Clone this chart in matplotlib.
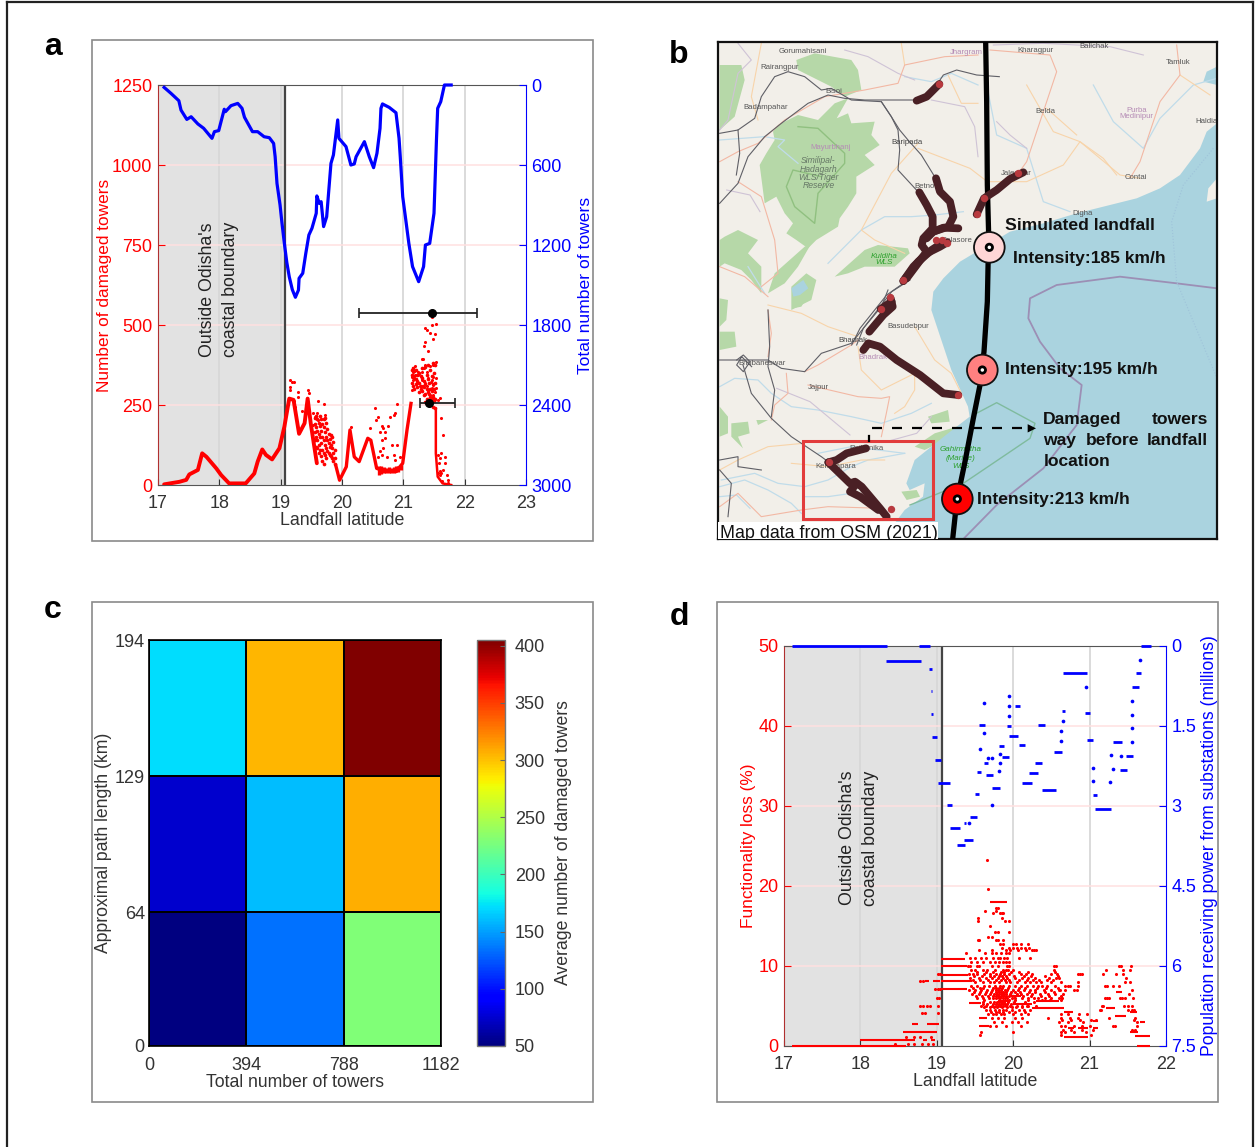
import matplotlib
matplotlib.use("Agg")
import matplotlib.pyplot as plt
from matplotlib.patches import Circle, Polygon, Rectangle, FancyArrowPatch

plt.rcParams['font.family'] = ['Liberation Sans', 'DejaVu Sans']
W, H = 1255, 1147
RED, BLUE, DARK = '#ff0000', '#0000ff', '#333333'
GRAY_BG, GRID_V, GRID_H = '#e2e2e2', '#d8d8d8', '#ffe0e0'

# ---------- panel a ----------
a_towers_lat = [17.10,17.21,17.34,17.375,17.47,17.54,17.65,17.745,17.88,17.92,17.99,18.08,18.10,18.19,18.30,18.37,18.41,18.54,18.625,18.73,18.815,18.885,18.91,18.94,18.99,19.02,19.06,19.10,19.14,19.19,19.24,19.29,19.30,19.36,19.41,19.46,19.51,19.58,19.59,19.63,19.66,19.70,19.75,19.82,19.86,19.93,19.95,20.065,20.145,20.20,20.23,20.365,20.445,20.515,20.57,20.62,20.635,20.66,20.77,20.88,20.93,20.95,20.99,21.04,21.09,21.15,21.25,21.33,21.36,21.43,21.50,21.54,21.56,21.61,21.67,21.78]
a_towers_val = [18,62,118,188,258,238,292,325,400,350,342,182,200,155,138,175,242,350,350,388,395,438,538,738,900,1030,1188,1330,1438,1535,1592,1538,1450,1412,1262,1125,1075,962,832,888,875,1062,988,588,525,262,400,462,600,592,538,425,538,620,512,325,175,142,168,208,400,538,838,1012,1188,1362,1475,1362,1200,1188,962,412,175,125,0,0]
a_band_lat = [17.10,17.35,17.46,17.51,17.65,17.72,17.79,17.95,18.03,18.16,18.43,18.57,18.625,18.70,18.76,18.86,18.98,19.06,19.14,19.21,19.30,19.39,19.44,19.49,19.54,19.59]
a_band_val = [2,10,16,33,47,99,88,52,31,5,5,36,73,111,94,80,115,182,270,266,160,193,270,193,130,68]
a_band2_lat = [19.90,19.96,20.07,20.13,20.20,20.28,20.42,20.47,20.565,20.64,20.88,20.99,21.06,21.125]
a_band2_val = [60,15,57,172,88,73,146,140,52,47,42,68,172,255]
a_band3_lat = [21.53,21.53,21.56,21.64,21.78]
a_band3_val = [234,99,26,5,0]
a_dense_lat = [19.56,19.58,19.60,19.62,19.64,19.66,19.68,19.70,19.72,19.74,19.76,19.78,19.80,19.82,19.84,19.86,19.88,
               21.14,21.16,21.18,21.20,21.22,21.25,21.28,21.30,21.33,21.36,21.38,21.40,21.42,21.44,21.46,21.48,21.50,21.52]
a_dense_vals = [[210,190,165,140],[215,180,150,120],[205,170,140,115],[195,160,125,100],[215,185,150,110],[205,170,130,90],[190,150,110,75],
                [205,180,140,100,65],[210,165,125,95],[195,150,115,85],[175,140,105],[160,130,100],[145,120,95],[155,125,90],[150,115,85],[135,100,75],[110,85,65],
                [360,345,320],[365,340,310],[355,335,300],[360,330,315],[345,325,305],[350,320,290],[340,310,300],[365,335,295],[325,305,280],[370,315,285,260],[345,300,270],[375,330,290,255],[320,285,262],[360,300,275,250],[340,295,265],[380,315,275,245],[350,300,262],[375,320,270,240]]
a_low_lat = [20.60,20.64,20.68,20.72,20.76,20.80,20.84,20.88,20.92,20.96]
a_low_hi = [60,58,55,52,55,52,55,58,60,62]
a_low_lo = [32,34,38,36,38,36,38,40,42,48]
a_dots_lat = [21.47,21.35,21.38,21.46,21.54,21.43,21.52,21.49,21.35,21.34,21.41,21.30,21.32,21.54,21.49,21.43,21.35,21.34,21.38,21.16,21.19,21.24,21.16,21.19,21.24,21.30,21.135,21.16,21.22,21.27,21.325,21.35,21.41,21.49,21.54,21.135,21.30,21.31,21.38,21.41,21.45,21.46,21.49,21.43,21.46,21.515,21.54,21.60,21.46,21.49,21.57,
 19.15,19.18,19.21,19.15,19.15,19.28,19.28,19.21,19.23,19.34,19.45,19.46,19.61,19.70,19.53,19.59,19.72,19.52,19.56,19.61,
 20.14,20.53,20.59,20.56,20.89,20.84,20.86,20.78,20.65,20.67,20.62,20.70,20.46,20.75,20.65,20.81,20.89,20.67,20.62,20.65,20.84,20.73,20.59,20.86,20.945,20.70,
 21.62,21.65,21.62,21.68,21.68,21.60,21.62,21.71,21.73,21.57,21.65,21.73,21.56,21.58,21.59,21.6,21.63]
a_dots_val = [525,490,484,500,503,474,472,455,448,434,420,395,395,385,375,372,375,365,354,365,372,354,354,344,344,354,339,328,318,308,308,318,333,339,333,297,328,333,308,297,323,303,282,282,268,292,303,271,328,313,266,
 328,323,323,305,297,292,276,261,245,230,297,287,263,254,188,224,219,224,214,204,
 181,240,214,204,254,219,224,214,183,178,167,167,178,183,141,126,126,115,105,94,94,89,89,79,89,146,
 209,157,100,89,68,84,37,32,16,37,48,6,95,70,45,30,14]
a_err_lat, a_err_val = [21.47, 21.42], [539, 255]
a_err_lo, a_err_hi = [1.20, 0.15], [0.73, 0.43]

# ---------- panel c ----------
c_x_ticks, c_y_ticks = [0, 394, 788, 1182], [0, 64, 129, 194]
c_avg_damage = [[50, 134, 230], [74, 160, 307], [172, 305, 405]]
cbar_ticks = [50, 100, 150, 200, 250, 300, 350, 400]

# ---------- panel d ----------
d_red_seg = [(17.1,18.6,0),(18.0,18.71,0.7),(18.82,18.87,0.7),(18.92,18.97,0.7),(18.56,19.0,1.75),(18.67,18.76,2.8),(18.87,19.03,2.8),(19.05,19.37,10.9),(19.05,19.39,9.95),(19.05,19.41,8.9),(19.05,19.39,7.15),(18.85,18.9,8.15),(18.95,19.04,8.15),(19.06,19.46,8.15),(19.69,19.915,18.05),(20.25,20.66,4.75),(20.66,20.98,1.15),(20.66,20.78,4.2),(20.72,20.8,2.3),(20.85,20.98,2.3),(21.05,21.11,3.1),(21.05,21.11,2.3),(21.33,21.48,3.7),(21.22,21.33,4.8),(21.35,21.42,6.7),(21.53,21.62,4.3),(21.66,21.72,3.0),(21.53,21.64,1.8),(21.6,21.79,1.2),(21.62,21.79,0),(19.55,19.68,2.5),(19.55,19.66,3.5),(19.8,19.95,5.6),(20.0,20.25,5.2),(20.3,20.6,5.6),(19.42,19.58,5.4),(19.95,20.1,6.3)]
d_red_levels = {
 23.25:[19.66], 19.6:[19.67], 17.2:[19.78,19.8], 16.9:[19.775,19.63], 16.6:[19.83,19.85,19.87,19.73],
 16.0:[19.535,19.85], 15.6:[19.535,19.89,19.94], 15.0:[19.69], 14.2:[19.76,19.8,19.94], 13.6:[19.675,19.72],
 13.2:[19.545,19.55,19.775,19.8,19.86], 12.7:[19.83,19.87,20.04,20.1,20.19,20.0], 12.3:[19.85,19.95,20.0,20.05,20.1,20.15,20.21],
 12.0:[19.55,19.72,19.9,19.96,20.06,20.17,20.24,20.27,20.3], 11.6:[19.63,19.72,19.78,19.84,19.9,19.95,19.38],
 11.0:[19.43,19.5,19.58,19.65,19.74,19.8,19.83,19.88,19.92,20.07,20.22], 10.5:[19.45,19.52,19.6,19.7,19.76,19.82,19.86,19.9,19.94],
 10.0:[19.41,19.44,19.52,19.55,19.72,19.8,19.92,19.95,20.53,20.56,21.39,21.41,21.54], 9.5:[19.45,19.5,19.6,19.66,19.76,19.86,19.9,19.93,20.0,20.53,21.21,21.44,21.53],
 9.0:[19.42,19.47,19.52,19.62,19.7,19.78,19.83,19.88,19.95,20.1,20.17,20.25,20.5,20.57,20.85,20.88,20.9,21.18,21.35,21.44],
 8.5:[19.44,19.55,19.65,19.72,19.8,19.86,19.92,20.03,20.12,20.2,20.28,20.47,20.56,20.6,21.48],
 8.0:[19.5,19.6,19.7,19.75,19.82,19.9,19.96,20.05,20.15,20.22,20.3,20.36,20.5,20.62,20.85,21.46,21.53],
 7.5:[19.45,19.53,19.62,19.68,19.76,19.83,19.87,19.94,20.02,20.1,20.18,20.26,20.32,20.38,20.44,20.55,20.68,20.72,20.74,20.85,21.2,21.23,21.31,21.38],
 7.0:[19.42,19.5,19.58,19.66,19.72,19.78,19.8,19.84,19.89,19.92,20.0,20.06,20.14,20.22,20.28,20.4,20.5,20.6,20.61,20.68,20.79,20.83,21.55],
 6.5:[19.46,19.55,19.63,19.7,19.75,19.79,19.82,19.85,19.88,19.91,19.96,20.05,20.1,20.18,20.24,20.35,20.45,20.55,20.65,21.51],
 6.0:[19.52,19.6,19.68,19.74,19.78,19.81,19.83,19.86,19.89,19.92,19.98,20.02,20.12,20.19,20.27,20.33,20.42,20.5,20.6,20.64,21.2,21.23,21.25,21.4,21.43,21.46,21.57],
 5.0:[19.58,19.64,19.72,19.78,19.8,19.83,19.87,19.9,19.96,20.05,20.12,20.18,20.2,20.3,21.16,21.18,21.45,21.5,21.55],
 4.5:[19.64,19.7,19.76,19.82,19.86,19.91,19.98,20.08,20.14,20.22,21.14,21.15,21.5,21.56,21.58],
 4.0:[19.67,19.74,19.78,19.84,19.88,20.0,20.1,20.2,20.62,20.72,20.86,20.96],
 3.5:[19.72,19.8,19.88,20.02,20.12,20.45,20.62,20.74,20.85,21.6,21.25],
 3.0:[19.75,19.85,19.98,20.06,20.18,20.6,20.72,20.92,21.62],
 2.5:[19.7,19.78,19.9,20.1,20.62,20.68,20.8,20.9,21.0,21.3,21.33,21.62],
 1.8:[19.58,20.0,20.62,20.68,20.8,20.95],
 1.4:[19.57,20.63,21.02],
 5.8:[19.62,19.95,20.03,20.2,20.38,20.48,20.62],
 4.1:[18.8,18.85,19.02],
 5.05:[18.78,18.82,18.87,18.91,19.02],
 7.1:[18.97,19.01,19.04],
 8.15:[18.78,18.82],
 0.3:[18.45,18.62,18.7,18.8,18.88,18.95],
 1.1:[18.6,18.7,18.78,18.92],
 6.05:[19.0,19.03],
 9.05:[19.02,19.04],
 7.25:[19.47,19.56,19.61,19.73,19.77,19.81,19.85,19.93,20.07,20.16,20.31,20.43,20.58],
 6.75:[19.49,19.57,19.65,19.71,19.77,19.81,19.84,19.87,19.9,19.97,20.03,20.09,20.21,20.29,20.41,20.53],
 6.25:[19.51,19.59,19.67,19.73,19.77,19.8,19.84,19.87,19.9,19.94,20.01,20.13,20.23,20.37,20.47,20.63],
 5.55:[19.61,19.69,19.75,19.79,19.82,19.85,19.88,19.93,20.01,20.16,20.27],
 5.3:[19.6,19.66,19.74,19.77,19.81,19.84,19.86,19.89,19.92,19.97],
 4.85:[19.62,19.69,19.75,19.79,19.85,19.92,19.99,20.04,20.11],
 4.25:[19.71,19.77,19.81,19.87,19.95,20.03,20.16],
 8.25:[19.47,19.57,19.67,19.78,19.84,19.89,19.95,20.08,20.18,20.26,20.34,20.44,20.52],
 8.75:[19.49,19.59,19.69,19.75,19.81,19.85,19.9,20.01,20.14,20.23,20.41,20.59],
 9.25:[19.53,19.64,19.74,19.84,19.88,19.97,20.08,20.2,20.55],
 2.0:[20.65,20.76,20.9,21.05,21.55,21.6],
 3.25:[20.64,20.76,20.88,21.02,21.09,21.58],
}
d_blue_seg = [(17.1,18.35,0),(18.77,18.91,0),(18.33,18.79,0.28),(18.9,18.94,0.425),(18.92,18.94,0.85),(18.93,18.95,1.28),(18.94,19.0,1.71),(18.98,19.06,2.14),(19.02,19.17,2.56),(19.14,19.2,2.99),(19.17,19.31,3.42),(19.27,19.37,3.74),(19.35,19.38,3.32),(19.36,19.47,3.64),(19.44,19.53,3.21),(19.5,19.55,2.78),(19.52,19.58,2.36),(19.55,19.63,1.49),(19.62,19.67,2.2),(19.65,19.74,2.42),(19.72,19.83,2.66),(19.82,19.88,1.88),(19.85,19.94,2.08),(19.92,19.97,1.5),(19.95,20.06,1.69),(20.03,20.09,1.13),(20.07,20.15,1.85),(20.12,20.24,2.57),(20.21,20.32,2.38),(20.28,20.38,2.19),(20.33,20.41,1.48),(20.38,20.56,2.7),(20.54,20.64,1.98),(20.64,20.68,1.22),(20.65,20.96,0.5),(20.94,21.0,1.26),(20.97,21.05,1.76),(21.05,21.1,2.79),(21.07,21.28,3.06),(21.31,21.43,1.8),(21.4,21.49,2.32),(21.47,21.57,2.06),(21.55,21.65,0.77),(21.61,21.67,0.51),(21.67,21.8,0)]
d_blue_dots_lat = [19.56,19.615,19.615,19.67,19.72,19.72,19.82,19.83,19.83,19.95,19.94,19.94,20.62,20.63,20.65,20.95,21.04,21.05,21.27,21.3,21.28,21.41,21.55,21.55,21.56,21.56,21.66,19.42]
d_blue_dots_val = [1.925,1.07,1.64,2.1,2.1,2.99,2.34,2.2,2.02,1.32,1.13,0.94,1.79,1.59,1.41,0.76,2.28,2.54,2.55,2.31,2.04,2.07,1.8,1.54,1.29,1.03,0.26,3.32]

# ---------- panel b (map, in map-image coordinates) ----------
track = [(827,21),(830,200),(832,450),(836,600),(832,800),(822,950),(810,1050),(790,1150),(765,1280),(740,1400),(728,1512)]
sea = [(1521,265),(1490,290),(1470,340),(1410,420),(1350,460),(1280,490),(1200,510),(1100,535),(1000,565),(900,590),(850,620),(800,650),(750,680),(700,730),(670,770),(664,825),(694,915),(724,1005),(774,1115),(779,1145),(714,1195),(664,1235),(614,1275),(589,1345),(599,1365),(644,1345),(639,1385),(584,1425),(554,1465),(544,1512),(1521,1512)]
estuary = [(1521,95),(1490,110),(1480,140),(1521,150)]
right_land = [(1521,430),(1495,460),(1490,500),(1521,490)]
forests = [
 [(204,270),(264,240),(324,255),(374,205),(414,190),(380,250),(414,235),(424,265),(494,260),(484,300),(509,330),(464,360),(494,390),(439,425),(439,475),(414,515),(389,550),(384,575),(319,615),(294,640),(259,615),(229,595),(249,565),(224,535),(199,485),(164,505),(149,390),(169,355),(194,315),(189,290)],
 [(259,75),(314,55),(424,75),(444,105),(454,165),(404,185),(364,155),(304,125),(264,105)],
 [(29,90),(94,90),(104,135),(74,245),(29,285)],
 [(44,605),(84,585),(144,615),(114,655),(154,695),(154,775),(124,735),(94,705),(44,685),(29,695),(29,615)],
 [(374,725),(464,645),(504,630),(594,640),(599,655),(554,695),(464,695),(414,715)],
 [(194,715),(284,635),(304,625),(264,695),(224,745),(174,775)],
 [(244,755),(289,715),(319,735),(304,795),(244,825)],
 [(29,790),(54,795),(49,855),(29,875)],[(29,890),(74,890),(79,935),(29,945)],
 [(249,765),(304,765),(274,815),(249,820)],
 [(29,1115),(54,1145),(54,1195),(29,1205)],
 [(64,1165),(114,1160),(119,1195),(84,1205),(99,1240),(64,1205)],
 [(139,1155),(174,1155),(144,1170)],
 [(654,1145),(714,1125),(719,1160),(664,1165)],
 [(674,1195),(774,1165),(704,1215),(644,1245),(614,1235)],
 [(574,1370),(620,1365),(630,1385),(590,1395)],
]
lake = [(244,760),(280,735),(295,760),(270,780),(250,785)]
roads_dark = [
 [(29,295),(84,285),(134,250),(154,185),(194,125),(234,110),(284,125),(334,165),(364,160),(424,195),(514,200),(544,245),(569,285),(594,315),(634,360),(674,425)],
 [(29,505),(84,445),(114,365),(164,305),(214,265),(294,205),(354,180),(404,190),(464,195),(514,195),(624,195)],
 [(514,200),(544,245),(564,285),(569,345),(564,405),(624,470)],
 [(84,285),(89,355),(79,420)],
 [(624,195),(660,180),(700,120),(740,105),(800,120),(868,125)],
 [(29,975),(84,975),(174,975),(214,1000),(284,1010),(334,955),(424,925),(464,875),(514,815),(534,765)],
 [(99,990),(124,1075),(184,1150),(244,1205),(334,1265),(354,1280)],
 [(174,825),(179,935),(174,995),(194,1065),(184,1145)],
 [(29,1275),(84,1265),(84,1295),(154,1305)],[(29,1305),(64,1345),(54,1445)],
 [(80,975),(100,960),(120,980),(100,1010),(80,990),(95,965),(125,995)],
 [(440,930),(460,880),(545,770),(600,735)],
 [(425,930),(450,880),(530,780),(580,745)],
]
roads_red = [
 [(29,380),(84,350),(144,325),(224,255),(344,185),(464,165),(564,145),(584,90),(704,65),(804,60)],
 [(284,1010),(324,990),(424,930),(444,915)],
 [(294,1050),(444,1085),(514,1090),(539,1085),(529,1135),(514,1205)],
 [(174,825),(184,895),(174,965)],[(229,1015),(234,1075),(194,1110),(184,1155)],
 [(29,1415),(84,1375),(154,1445),(274,1425),(354,1415),(514,1420)],
 [(29,695),(104,725),(174,785)],
 [(84,440),(154,485),(194,615),(204,715),(154,755)],
 [(840,45),(1020,60),(1040,110),(950,380),(925,415)],
 [(1400,30),(1410,120),(1350,200),(1290,380),(1260,430)],
]
roads_orange = [
 [(584,90),(574,25)],[(714,120),(754,205),(804,205)],
 [(624,325),(544,415),(454,585),(494,615),(584,655)],
 [(144,255),(124,185),(154,25)],
 [(174,810),(274,835),(354,875),(444,905)],
 [(444,935),(454,1005),(514,1065),(614,1015),(614,1065),(584,1115),(554,1135)],
 [(614,875),(674,975),(724,1015),(754,1075)],
 [(29,1305),(84,1275),(174,1235),(279,1225)],[(244,1285),(354,1295),(454,1275),(524,1275)],
 [(624,340),(780,400),(832,440),(950,440),(1060,390),(1110,320),(1230,420),(1290,430)],
 [(950,150),(1030,290),(1110,320),(1180,370),(1220,420)],
 [(1010,220),(1100,300)],[(1410,120),(1500,180)],
]
rivers = [
 [(29,315),(164,305),(224,315),(204,335),(264,385)],
 [(584,125),(664,140),(724,115),(804,150)],
 [(354,685),(404,635),(454,585),(524,545),(604,545),(674,540),(760,530)],
 [(114,695),(164,775)],
 [(29,1055),(74,1030),(144,1035),(184,1075),(244,1115),(324,1125),(424,1145),(514,1165),(604,1135),(664,1105)],
 [(34,1335),(134,1315),(204,1345),(284,1355),(354,1335),(424,1295),(474,1275),(584,1255)],
 [(284,1385),(354,1385),(424,1375),(484,1415)],
 [(29,1355),(104,1335),(174,1365),(244,1405),(274,1435)],
 [(324,1255),(424,1235),(584,1255)],
 [(830,150),(860,300),(950,340),(1000,500),(1080,530)],
 [(1150,150),(1210,260),(1300,340),(1350,250),(1450,150),(1521,130)],
 [(29,1385),(80,1380),(120,1420)],
]
boundaries = [
 [(84,25),(124,75),(84,115),(54,255),(29,285)],
 [(404,45),(474,65),(564,115),(614,135)],
 [(664,195),(764,215),(794,275),(804,365)],
 [(860,260),(900,300),(950,340)],
 [(50,465),(120,480),(150,530)],
 [(200,1060),(300,1100),(420,1200)],
 [(529,1220),(620,1195),(664,1145)],
 [(850,30),(1000,25),(1200,35),(1300,60)],
]
eez = [(760,1512),(860,1410),(1000,1300),(1100,1170),(1115,1050),(1050,1000),(990,920),(955,850),(960,790),(1040,750),(1230,725),(1400,745),(1521,760)]
sanctuary = [(600,1410),(760,1345),(960,1210),(975,1165),(860,1103),(790,1140)]
forest_lines = [[(264,275),(324,280),(404,355),(404,385),(324,475),(314,565),(254,515),(229,455),(249,405),(334,425)]]
towers = [
 [(620,197),(650,185),(670,165),(688,147)],
 [(628,472),(650,510),(668,545),(668,580),(640,610),(635,630),(650,650),(620,690),(590,730)],
 [(678,430),(690,470),(720,500),(730,545),(715,575),(670,590),(650,610)],
 [(745,580),(700,578),(670,590)],
 [(580,738),(610,695),(650,655),(690,635),(712,622)],
 [(580,738),(625,680),(665,645),(695,625)],
 [(800,538),(822,490),(860,465),(900,432),(940,412)],
 [(542,790),(548,815),(520,840),(478,890)],[(512,822),(545,800)],
 [(460,945),(475,925),(510,935),(560,975),(630,1020),(700,1075),(745,1080)],
 [(468,1240),(410,1255),(380,1275),(355,1282)],
 [(355,1282),(420,1345),(435,1340),(455,1355),(510,1420),(530,1445)],
 [(440,1345),(420,1370),(450,1385),(505,1425)],
]
tower_ends = [(688,147),(925,415),(822,490),(802,538),(677,615),(695,615),(712,625),(580,735),(540,787),(512,822),(745,1080),(358,1280),(543,1422)]
landfalls = [(838,637,'#ffd6d6'),(817,1005,'#ff8080'),(742,1392,'#ff0000')]
place_labels = [(277,50,'Gorumahisani','#555555'),(210,97,'Rairangpur','#555555'),(370,170,'Bisoi','#555555'),(168,218,'Badampahar','#555555'),(590,322,'Baripada','#444444'),(362,337,'Mayurbhanj','#b58bb5'),(768,52,'Jhargram','#b58bb5'),(977,46,'Kharagpur','#555555'),(1152,33,'Balichak','#555555'),(1403,81,'Tamluk','#555555'),(1005,230,'Belda','#555555'),(1280,225,'Purba','#b58bb5'),(1280,245,'Medinipur','#b58bb5'),(1490,260,'Haldia','#555555'),(1278,427,'Contai','#555555'),(1117,535,'Digha','#555555'),(650,453,'Betnoti','#555555'),(740,617,'Balasore','#555555'),(920,415,'Jaleswar','#555555'),(595,873,'Basudebpur','#555555'),(430,915,'Bhadrak','#444444'),(490,967,'Bhadrak','#b58bb5'),(325,1058,'Jajpur','#555555'),(155,985,'Bhubaneswar','#555555'),(470,1240,'Rajkanika','#555555'),(378,1293,'Kendrapara','#555555')]
park_labels = [(325,377,'Similipal-'),(325,402,'Hadagarh'),(325,427,'WLS/Tiger'),(325,452,'Reserve')]
wls_labels = [(522,663,'Kuldiha'),(522,684,'WLS'),(753,1244,'Gahirmatha'),(753,1269,'(Marine)'),(753,1294,'WLS')]


def rect(l, t, r, b):
    return [l / W, 1 - b / H, (r - l) / W, (b - t) / H]


fig = plt.figure(figsize=(W / 100, H / 100), dpi=100)
frame = fig.add_axes([0, 0, 1, 1], zorder=-5)
frame.set_xlim(0, W); frame.set_ylim(H, 0); frame.axis('off')
for l, t, r, b in [(92, 40, 593, 541), (92, 602, 593, 1102), (717, 602, 1218, 1102)]:
    frame.add_patch(Rectangle((l, t), r - l, b - t, fc='white', ec='#8a8a8a', lw=1.2))
frame.plot([7, 7], [1147, 2], color='#222222', lw=1.6)
frame.plot([7, 1253], [2, 2], color='#222222', lw=1.6)
frame.plot([1253, 1253], [2, 1147], color='#222222', lw=1.6)
for s, x, y in [('a', 53, 47), ('b', 679, 55), ('c', 53, 610), ('d', 679, 617)]:
    frame.text(x, y, s, fontsize=23, fontweight='bold', ha='center', va='center', color='black')


def two_scale(rc, xlim, xticks, ylim, yticks, rlim, rticks, rlabels, llabel, lpx):
    ax = fig.add_axes(rect(*rc))
    ax.set_xlim(*xlim); ax.set_ylim(*ylim)
    ax.axvspan(xlim[0], 19.05, color=GRAY_BG, lw=0, zorder=0)
    for x in xticks[1:-1]:
        ax.axvline(x, color=GRID_V, lw=1.3, zorder=0.5)
    for y in yticks[1:-1]:
        ax.axhline(y, color=GRID_H, lw=1.1, zorder=0.6)
    ax.axvline(19.07, color='#444444', lw=1.6, zorder=1)
    ax.set_xticks(xticks); ax.set_yticks(yticks)
    ax.tick_params(axis='x', direction='in', length=4, labelsize=13, colors=DARK, pad=7)
    ax.tick_params(axis='y', direction='in', length=5, labelsize=13, colors=RED, pad=4)
    ax.spines['top'].set_color('#555555'); ax.spines['bottom'].set_color('#555555')
    ax.spines['left'].set_color('#b03030')
    ax.spines['right'].set_visible(False)
    ax.set_xlabel('Landfall latitude', fontsize=12.8, color=DARK, labelpad=0)
    fig.text(lpx / W, 1 - (rc[1] + rc[3]) / 2 / H, llabel, rotation=90, color=RED, fontsize=12.4, ha='center', va='center')
    r = ax.twinx()
    r.set_ylim(*rlim); r.set_yticks(rticks); r.set_yticklabels(rlabels)
    r.tick_params(axis='y', direction='in', length=5, labelsize=13, colors=BLUE, pad=4)
    for k in ('top', 'bottom', 'left'):
        r.spines[k].set_visible(False)
    r.spines['right'].set_color(BLUE)
    return ax, r


# panel a
axa, axa2 = two_scale((158, 85, 526, 485), (17, 23), [17, 18, 19, 20, 21, 22, 23], (0, 1250),
                      [0, 250, 500, 750, 1000, 1250], (3000, 0), [3000, 2400, 1800, 1200, 600, 0],
                      ['3000', '2400', '1800', '1200', '600', '0'], 'Number of damaged towers', 105)
fig.text(586 / W, 1 - 285 / H, 'Total number of towers', rotation=90, color=BLUE, fontsize=12.6, ha='center', va='center')
axa.plot(a_band_lat, a_band_val, color=RED, lw=2.8, zorder=3, solid_capstyle='round')
axa.plot(a_band2_lat, a_band2_val, color=RED, lw=2.4, zorder=3)
axa.plot(a_band3_lat, a_band3_val, color=RED, lw=1.8, zorder=3)
axa.vlines(a_low_lat, a_low_lo, a_low_hi, color=RED, lw=2.4, zorder=3)
for x, vs in zip(a_dense_lat, a_dense_vals):
    axa.scatter([x] * len(vs), vs, s=7, color=RED, lw=0, zorder=3)
axa.scatter(a_dots_lat, a_dots_val, s=5, color=RED, lw=0, zorder=3)
axa.errorbar(a_err_lat, a_err_val, xerr=[a_err_lo, a_err_hi], fmt='o', color='#222222', mfc='black', mec='black',
             ms=5.5, lw=1.3, capsize=3.5, capthick=1.2, zorder=5)
axa2.plot(a_towers_lat, a_towers_val, color=BLUE, lw=2.3, zorder=4, clip_on=False)
axa.text(18.0, 611, "Outside Odisha's\ncoastal boundary", rotation=90, fontsize=12.8, color='#222222',
         ha='center', va='center', ma='center', linespacing=1.45)

# panel b
m = fig.add_axes(rect(718, 42, 1217, 539))
m.set_xlim(24, 1521); m.set_ylim(1512, 21)
m.set_xticks([]); m.set_yticks([])
m.set_facecolor('#f2efe9')
for p in m.spines.values():
    p.set_color('#111111'); p.set_linewidth(1.6)
for f in forests:
    m.add_patch(Polygon(f, closed=True, fc='#b6d8a8', ec='none', zorder=1))
m.add_patch(Polygon(lake, closed=True, fc='#aad3df', ec='none', zorder=1.1))
for l in forest_lines:
    m.plot(*zip(*l), color='#90c080', lw=1.0, zorder=1.2)
m.add_patch(Polygon(sea, closed=True, fc='#aad3df', ec='none', zorder=1.5))
m.add_patch(Polygon(estuary, closed=True, fc='#aad3df', ec='none', zorder=1.5))
m.add_patch(Polygon(right_land, closed=True, fc='#f2efe9', ec='none', zorder=1.6))
for group, col, lw in [(rivers, '#c0dcea', 0.9), (boundaries, '#cfc3d6', 0.8), (roads_orange, '#f8d4aa', 0.8),
                       (roads_red, '#f2b8a4', 0.8), (roads_dark, '#5f5f66', 0.8)]:
    for l in group:
        m.plot(*zip(*l), color=col, lw=lw, zorder=2)
m.plot(*zip(*eez), color='#9c8fb5', lw=1.3, zorder=2)
m.plot(*zip(*sanctuary), color='#7fbb9e', lw=1.0, zorder=2)
m.plot([1510, 1420, 1385, 1400, 1521], [340, 450, 560, 740, 1030], color='#9fc3da', lw=0.8, ls=':', zorder=2)
for x, y, s, c in place_labels:
    m.text(x, y, s, fontsize=5.6, color=c, ha='center', va='center', zorder=2.5)
for x, y, s in park_labels:
    m.text(x, y, s, fontsize=6.2, color='#667766', style='italic', ha='center', va='center', zorder=2.5)
for x, y, s in wls_labels:
    m.text(x, y, s, fontsize=5.8, color='#2ca02c', style='italic', ha='center', va='center', zorder=2.5)
m.plot(*zip(*track), color='black', lw=3.8, zorder=3, solid_capstyle='butt')
for t in towers:
    m.plot(*zip(*t), color='#4a2025', lw=5.6, zorder=4, solid_capstyle='round', solid_joinstyle='round')
m.scatter(*zip(*tower_ends), s=28, color='#b83a3f', lw=0, zorder=5)
for x, y, c in landfalls:
    m.add_patch(Circle((x, y), 46, fc=c, ec='#111111', lw=1.3, zorder=6))
    m.add_patch(Circle((x, y), 9.5, fc='white', ec='black', lw=2.0, zorder=7))
m.add_patch(Rectangle((280, 1218), 388, 235, fc='none', ec='#e23c3c', lw=2.2, zorder=5))
m.plot([485, 940], [1180, 1180], color='black', lw=1.6, ls=(0, (4.5, 4.5)), zorder=6)
m.plot([478, 478], [1204, 1218], color='black', lw=1.6, zorder=6)
m.add_patch(FancyArrowPatch((940, 1180), (978, 1180), arrowstyle='-|>', mutation_scale=15, color='black', lw=0, zorder=6, shrinkA=0, shrinkB=0))
bold = dict(fontsize=12.6, fontweight='bold', color='#111111', va='center', zorder=8)
m.text(886, 573, 'Simulated landfall', ha='left', **bold)
m.text(910, 672, 'Intensity:185 km/h', ha='left', **bold)
m.text(886, 1003, 'Intensity:195 km/h', ha='left', **bold)
m.text(800, 1393, 'Intensity:213 km/h', ha='left', **bold)
m.text(1000, 1153, 'Damaged', ha='left', **bold)
m.text(1493, 1153, 'towers', ha='right', **bold)
m.text(1000, 1216, 'way', ha='left', **bold)
m.text(1126, 1216, 'before', ha='left', **bold)
m.text(1493, 1216, 'landfall', ha='right', **bold)
m.text(1000, 1279, 'location', ha='left', **bold)
m.add_patch(Rectangle((24, 1460), 661, 60, fc='white', ec='none', zorder=8))
m.text(30, 1494, 'Map data from OSM (2021)', fontsize=12.9, color='#111111', ha='left', va='center', zorder=9, clip_on=True)

# panel c
axc = fig.add_axes(rect(149, 640, 441, 1046))
mesh = axc.pcolormesh(c_x_ticks, c_y_ticks, c_avg_damage, cmap='jet', vmin=50, vmax=405, edgecolors='black', linewidth=1.2)
axc.set_xticks(c_x_ticks); axc.set_yticks(c_y_ticks)
axc.tick_params(axis='x', direction='in', length=0, labelsize=13, colors=DARK, pad=8)
axc.tick_params(axis='y', direction='in', length=0, labelsize=13, colors=DARK, pad=3)
axc.set_xlabel('Total number of towers', fontsize=12.7, color=DARK, labelpad=0)
fig.text(104 / W, 1 - 843 / H, 'Approximal path length (km)', rotation=90, fontsize=12.7, color=DARK, ha='center', va='center')
for p in axc.spines.values():
    p.set_color('black'); p.set_linewidth(1.2)
cax = fig.add_axes(rect(477, 640, 505, 1046))
cb = fig.colorbar(mesh, cax=cax, ticks=cbar_ticks)
cb.ax.tick_params(direction='in', length=3.5, labelsize=13, colors=DARK, pad=7, color='#666666')
cb.outline.set_edgecolor('#777777'); cb.outline.set_linewidth(1.0)
cb.set_label('Average number of damaged towers', fontsize=12.7, color=DARK, labelpad=7)

# panel d
axd, axd2 = two_scale((784, 646, 1166, 1046), (17, 22), [17, 18, 19, 20, 21, 22], (0, 50),
                      [0, 10, 20, 30, 40, 50], (7.5, 0), [7.5, 6, 4.5, 3, 1.5, 0],
                      ['7.5', '6', '4.5', '3', '1.5', '0'], 'Functionality loss (%)', 749)
fig.text(1210 / W, 1 - 846 / H, 'Population receiving power from substations (millions)', rotation=90, color=BLUE,
         fontsize=12.7, ha='center', va='center')
axd.text(17.98, 26.0, "Outside Odisha's\ncoastal boundary", rotation=90, fontsize=12.8, color='#222222',
         ha='center', va='center', ma='center', linespacing=1.45)
for x0, x1, y in d_red_seg:
    axd.plot([x0, x1], [y, y], color=RED, lw=1.5, zorder=3, solid_capstyle='butt', clip_on=False)
for lev, xs in d_red_levels.items():
    axd.scatter(xs, [lev] * len(xs), s=5, color=RED, lw=0, zorder=3)
for x0, x1, y in d_blue_seg:
    axd2.plot([x0, x1], [y, y], color=BLUE, lw=2.0, zorder=4, solid_capstyle='butt', clip_on=False)
axd2.scatter(d_blue_dots_lat, d_blue_dots_val, s=7, color=BLUE, lw=0, zorder=4)

fig.savefig('out.png', dpi=100)
